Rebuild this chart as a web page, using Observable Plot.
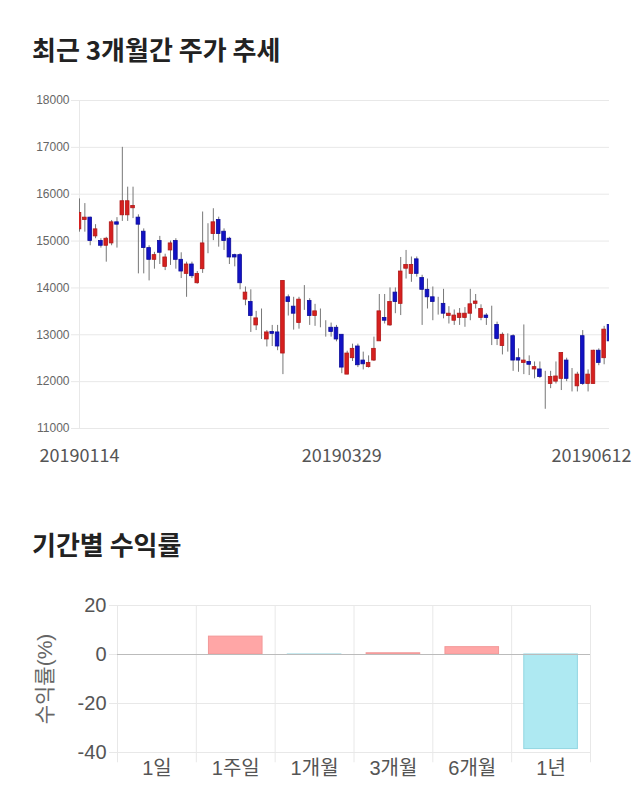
<!DOCTYPE html>
<html><head><meta charset="utf-8">
<script src="https://cdn.jsdelivr.net/npm/d3@7"></script>
<script src="https://cdn.jsdelivr.net/npm/@observablehq/plot@0.6"></script>
<style>
body{margin:0;background:#fff;width:640px;height:810px;position:relative;overflow:hidden;font-family:"Noto Sans CJK KR",sans-serif}
h2{position:absolute;left:32px;margin:0;font-size:26px;line-height:26px;font-weight:700;color:#222;white-space:nowrap}
#t1{top:36px} #t2{top:531px}
#c1{position:absolute;left:0;top:80px}
#c2{position:absolute;left:0;top:585px}
</style></head>
<body>
<h2 id="t1">최근 3개월간 주가 추세</h2>
<div id="c1"></div>
<h2 id="t2">기간별 수익률</h2>
<div id="c2"></div>
<script>
// ---- candlestick data (trading days, index 0..99) ----
const dateLabels = ["20190114", "20190329", "20190612"];
const dateLabelIdx = [0, 49, 99];
const opens = [15250,15450,15500,15100,15000,14900,14950,15400,15550,15550,
15700,15500,15200,14850,14600,15000,14450,14800,15000,14600,
14300,14500,14100,14400,15050,15150,15450,15200,15050,14700,
14700,13750,13700,13200,13130,12900,13060,13050,12600,13800,
13600,13250,13760,13720,13400,13400,13100,13150,13150,13000,
12150,12500,12750,12450,12310,12450,12860,13360,13200,13900,
13660,14410,14300,14610,14210,13960,13800,13610,13660,13400,
13300,13360,13360,13450,13660,13360,13410,13250,13210,12760,
12800,12970,12500,12400,12420,12260,12260,12100,11950,12000,
12060,12450,12060,11900,12970,11950,11950,12660,12500,13210];
const highs = [15900,15800,15510,15350,15050,15080,15440,15500,17000,16150,
16150,15560,15260,14900,14760,15100,14720,15000,15050,14750,
14550,14550,14350,15620,15370,15690,15510,15260,15080,14720,
14730,14020,13960,13500,13550,13090,13200,13200,14150,13850,
13800,13800,14050,13770,13650,13550,13300,13250,13200,13000,
12650,12800,12800,12630,12550,12950,13860,13860,14000,14000,
14650,14800,14660,14660,14270,14190,14020,13800,13970,13600,
13530,13560,13580,13970,13860,13640,13450,13610,13270,13040,
13020,13000,12700,13210,12550,12420,12420,12220,12220,12420,
12620,12500,12280,12200,13090,12250,12670,12700,13180,13260];
const lows = [15190,15190,14900,15050,14850,14550,14900,14850,15420,15420,
15480,14300,14300,14150,14400,14500,14370,14480,14400,14200,
13800,14200,14080,14310,14730,15010,14870,14800,14500,14450,
13960,13620,13050,13090,12900,12740,12750,12660,12150,13400,
13100,13120,13520,13200,13180,13150,12950,12950,12850,12170,
12150,12430,12300,12250,12290,12430,12860,13230,13180,13450,
13410,14190,14120,14230,13200,13550,13300,13420,13340,13230,
13200,13200,13160,13300,13550,13300,13200,12770,12770,12570,
12630,12220,12200,12150,12130,12060,12070,11410,11850,11950,
11810,12000,11780,11780,11920,11780,11950,12340,12360,12860];
const closes = [15600,15500,15000,15250,14900,15050,15400,15350,15850,15850,
15750,15350,14850,14600,14700,14750,14650,14950,14600,14350,
14500,14250,14300,14950,15050,15400,15150,15000,14650,14650,
14100,13900,13400,13350,13130,13050,13020,12750,14150,13700,
13450,13750,13760,13400,13500,13400,13100,13060,12900,12300,
12600,12700,12350,12370,12400,12700,13500,13300,13700,13700,
14350,14490,14490,14300,13960,13800,13700,13610,13450,13450,
13410,13450,13450,13650,13710,13550,13360,13250,12910,13000,
12800,12450,12450,12450,12360,12310,12100,12100,12100,12110,
12610,12060,12060,12150,11950,12150,12660,12400,13110,12860];
const priceTicks = [11000,12000,13000,14000,15000,16000,17000,18000];

// ---- period returns ----
const periods = ["1일","1주일","1개월","3개월","6개월","1년"];
const returns = [0, 7.3, -0.2, 0.5, 3.0, -38.6];
const returnTicks = [20, 0, -20, -40];

const candles = opens.map((o, i) => ({i, o, h: highs[i], l: lows[i], c: closes[i]}));
const col = d => d.c > d.o ? "#d6201f" : d.c < d.o ? "#1212c4" : "#222";
const edge = d => d.c > d.o ? "#b01818" : d.c < d.o ? "#0c0c9a" : "#222";

const chart1 = Plot.plot({
  width: 640, height: 400,
  marginTop: 20, marginBottom: 52, marginLeft: 79, marginRight: 31,
  style: {fontFamily: "'Liberation Sans', 'Noto Sans CJK KR', sans-serif", background: "#fff"},
  x: {domain: [0, 99], axis: null, label: null},
  y: {domain: [11000, 18000], axis: null, label: null},
  marks: [
    Plot.gridY(priceTicks, {stroke: "#e8e8e8", strokeOpacity: 1}),
    Plot.axisY(priceTicks, {tickSize: 8, tickPadding: 2, stroke: "#e8e8e8", fill: "#666", fontSize: 12, tickFormat: d => String(d), label: null}),
    Plot.ruleX([0], {stroke: "#e8e8e8"}),
    Plot.ruleX(candles, {x: "i", y1: "l", y2: "h", stroke: "#777", strokeWidth: 1, clip: true}),
    Plot.rect(candles, {x1: d => d.i - 0.34, x2: d => d.i + 0.34, y1: "o", y2: "c", fill: col, stroke: edge, strokeWidth: 0.8, clip: true}),
    Plot.text(dateLabelIdx.slice(0, 2), {x: d => d, text: (d, k) => dateLabels[k], frameAnchor: "bottom", dy: 33, fontSize: 18, fill: "#555", fontFamily: "'Noto Sans CJK KR', sans-serif"}),
    Plot.text(dateLabelIdx.slice(2), {x: d => d, text: (d, k) => dateLabels[k + 2], frameAnchor: "bottom", dy: 33, dx: 22, textAnchor: "end", fontSize: 18, fill: "#555", fontFamily: "'Noto Sans CJK KR', sans-serif"})
  ]
});
document.getElementById("c1").appendChild(chart1);

const bars = periods.map((p, k) => ({k, p, v: returns[k]}));
const chart2 = Plot.plot({
  width: 640, height: 205,
  marginTop: 20, marginBottom: 38, marginLeft: 117, marginRight: 50,
  style: {fontFamily: "'Liberation Sans', 'Noto Sans CJK KR', sans-serif", background: "#fff"},
  x: {domain: [0, 6], axis: null, label: null},
  y: {domain: [-40, 20], axis: null, label: null},
  marks: [
    Plot.ruleX(d3.range(periods.length + 1), {x: d => d, y1: -44.2, y2: 20, stroke: "#e8e8e8"}),
    Plot.gridY([20, -20, -40], {stroke: "#e8e8e8", strokeOpacity: 1}),
    Plot.axisY(returnTicks, {tickSize: 8, tickPadding: 3, stroke: "#e8e8e8", fill: "#555", fontSize: 20, tickFormat: d => String(d), label: null}),
    Plot.rect(bars, {x1: d => d.k + 0.16, x2: d => d.k + 0.84, y1: 0, y2: "v",
      fill: d => d.v >= 0 ? "#ffa6a6" : "#aee9f2",
      stroke: d => d.v >= 0 ? "#f29898" : "#92d6e2", strokeWidth: 1}),
    Plot.ruleY([0], {stroke: "#bbb"}),
    Plot.text(bars, {x: d => d.k + 0.5, text: "p", frameAnchor: "bottom", dy: 22, fontSize: 20, fill: "#555"}),
    Plot.text(["수익률(%)"], {frameAnchor: "left", textAnchor: "middle", dx: -72, rotate: -90, fontSize: 21, fill: "#666"})
  ]
});
document.getElementById("c2").appendChild(chart2);
</script>
</body></html>
